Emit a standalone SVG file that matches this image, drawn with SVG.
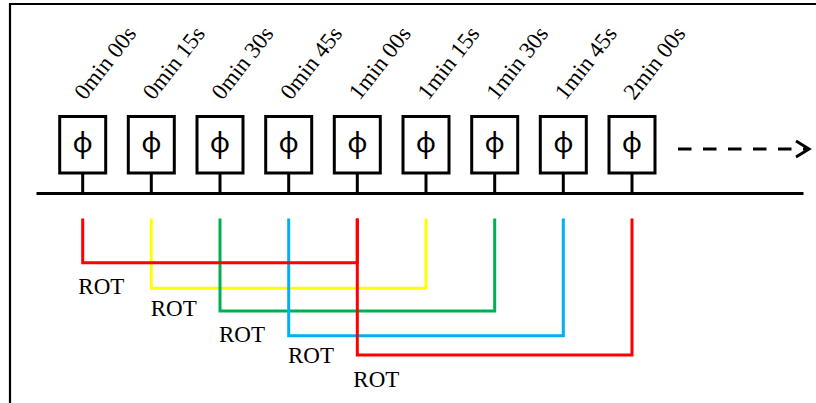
<svg xmlns="http://www.w3.org/2000/svg" width="816" height="403" viewBox="0 0 816 403">
  <style>
    .frame { fill: none; stroke: #000; stroke-width: 2.2; }
    .box { fill: #fff; stroke: #000; stroke-width: 3; }
    .stem { stroke: #000; stroke-width: 3; }
    .phi { font-family: "Noto Sans", "DejaVu Sans", sans-serif; font-size: 28px; text-anchor: middle; fill: #000; }
    .time { font-family: "Liberation Serif", "Times New Roman", serif; font-size: 23px; fill: #000; }
    .rot { font-family: "Liberation Serif", "Times New Roman", serif; font-size: 23px; fill: #000; }
    .wire { fill: none; stroke-width: 3; stroke-linejoin: miter; }
    .red { stroke: #FF0000; }
    .yellow { stroke: #FFFF00; }
    .green { stroke: #00B050; }
    .blue { stroke: #00B0F0; }
  </style>
  <defs>
    <g id="sampler">
      <rect class="box" x="-23" y="116.5" width="46" height="56.5"/>
      <line class="stem" x1="0" y1="173" x2="0" y2="193.5"/>
      <text class="phi" x="0" y="152">ϕ</text>
    </g>
  </defs>
  <rect width="816" height="403" fill="#fff"/>
  <!-- outer frame (top and left edges) -->
  <path class="frame" d="M10 403 V4 H816"/>

  <!-- time axis -->
  <g id="axis">
    <line x1="36.5" y1="193.5" x2="803.5" y2="193.5" stroke="#000" stroke-width="3"/>
    <line x1="678" y1="149" x2="807" y2="149" stroke="#000" stroke-width="3" stroke-dasharray="13.5 11.5"/>
    <polyline points="796,141 809,149 796,157" fill="none" stroke="#000" stroke-width="3"/>
  </g>

  <!-- sampling nodes -->
  <g id="n0"><use href="#sampler" x="82.7"/><text class="time" transform="translate(85 101) rotate(-52)">0min 00s</text></g>
  <g id="n1"><use href="#sampler" x="151.3"/><text class="time" transform="translate(153.6 101) rotate(-52)">0min 15s</text></g>
  <g id="n2"><use href="#sampler" x="220"/><text class="time" transform="translate(222.3 101) rotate(-52)">0min 30s</text></g>
  <g id="n3"><use href="#sampler" x="288.7"/><text class="time" transform="translate(291 101) rotate(-52)">0min 45s</text></g>
  <g id="n4"><use href="#sampler" x="357.3"/><text class="time" transform="translate(359.6 101) rotate(-52)">1min 00s</text></g>
  <g id="n5"><use href="#sampler" x="426"/><text class="time" transform="translate(428.3 101) rotate(-52)">1min 15s</text></g>
  <g id="n6"><use href="#sampler" x="494.7"/><text class="time" transform="translate(497 101) rotate(-52)">1min 30s</text></g>
  <g id="n7"><use href="#sampler" x="563.3"/><text class="time" transform="translate(565.6 101) rotate(-52)">1min 45s</text></g>
  <g id="n8"><use href="#sampler" x="632"/><text class="time" transform="translate(634.3 101) rotate(-52)">2min 00s</text></g>

  <!-- ROT connectors -->
  <g id="connectors">
    <polyline class="wire yellow" points="151.3,218.5 151.3,288.3 426,288.3 426,218.5"/>
    <polyline class="wire green" points="220,218.5 220,311 494.7,311 494.7,218.5"/>
    <polyline class="wire blue" points="288.7,218.5 288.7,335.7 563.3,335.7 563.3,218.5"/>
    <polyline class="wire red" points="82.7,218.5 82.7,262.7 357.3,262.7 357.3,218.5"/>
    <polyline class="wire red" points="357.3,218.5 357.3,355 632,355 632,218.5"/>
  </g>

  <g id="labels">
    <text class="rot" x="78.3" y="294.3">ROT</text>
    <text class="rot" x="150.7" y="316">ROT</text>
    <text class="rot" x="219" y="341.7">ROT</text>
    <text class="rot" x="288" y="362.7">ROT</text>
    <text class="rot" x="353.3" y="386.7">ROT</text>
  </g>
</svg>
